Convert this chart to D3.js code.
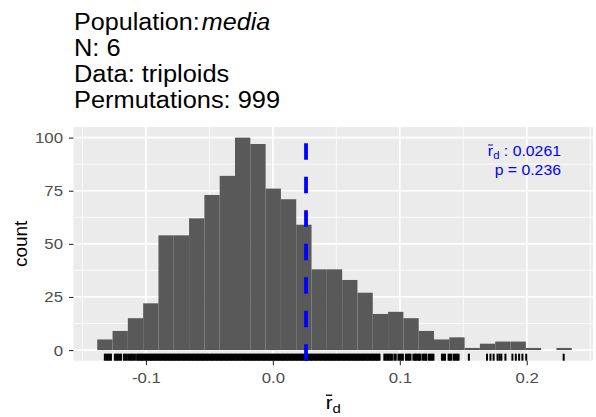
<!DOCTYPE html>
<html>
<head>
<meta charset="utf-8">
<script src="https://cdn.jsdelivr.net/npm/d3@7"></script>
<style>
  body { margin: 0; background: #ffffff; }
  svg { display: block; }
  text { font-family: "Liberation Sans", Arial, Helvetica, sans-serif; }
</style>
</head>
<body>
<svg id="chart" width="596" height="417"></svg>
<script>
// ---- data -------------------------------------------------------------
const titleLines = ["N: 6", "Data: triploids", "Permutations: 999"];
const populationName = "media";

// histogram of permuted mean correlations (31 equal-width bins)
const binStart = -0.1384;
const binWidth = 0.01206;
const binCounts = [5, 9, 15, 22, 54, 54, 62, 73, 82, 100, 97, 76, 71, 59, 38, 38,
                   33, 27, 17, 18, 15, 9, 5, 6, 1, 3, 4, 4, 1, 0, 1];

// rug: permuted values along the x axis
const rugLow = [-0.1324, -0.1312, -0.1300, -0.1288, -0.1276,
                -0.1245, -0.1233, -0.1221, -0.1209, -0.1197,
                -0.1174, -0.1162, -0.1150,
                -0.1134, -0.1122, -0.1111, -0.1099, -0.1087];
const rugDense = [
  -0.107, -0.106, -0.105, -0.104, -0.103, -0.102, -0.101, -0.100,
  -0.099, -0.098, -0.097, -0.096, -0.095, -0.094, -0.093, -0.092,
  -0.091, -0.090, -0.089, -0.088, -0.087, -0.086, -0.085, -0.084,
  -0.083, -0.082, -0.081, -0.080, -0.079, -0.078, -0.077, -0.076,
  -0.075, -0.074, -0.073, -0.072, -0.071, -0.070, -0.069, -0.068,
  -0.067, -0.066, -0.065, -0.064, -0.063, -0.062, -0.061, -0.060,
  -0.059, -0.058, -0.057, -0.056, -0.055, -0.054, -0.053, -0.052,
  -0.051, -0.050, -0.049, -0.048, -0.047, -0.046, -0.045, -0.044,
  -0.043, -0.042, -0.041, -0.040, -0.039, -0.038, -0.037, -0.036,
  -0.035, -0.034, -0.033, -0.032, -0.031, -0.030, -0.029, -0.028,
  -0.027, -0.026, -0.025, -0.024, -0.023, -0.022, -0.021, -0.020,
  -0.019, -0.018, -0.017, -0.016, -0.015, -0.014, -0.013, -0.012,
  -0.011, -0.010, -0.009, -0.008, -0.007, -0.006, -0.005, -0.004,
  -0.003, -0.002, -0.001, 0.000, 0.001, 0.002, 0.003, 0.004,
  0.005, 0.006, 0.007, 0.008, 0.009, 0.010, 0.011, 0.012,
  0.013, 0.014, 0.015, 0.016, 0.017, 0.018, 0.019, 0.020,
  0.021, 0.022, 0.023, 0.024, 0.025, 0.026, 0.027, 0.028,
  0.029, 0.030, 0.031, 0.032, 0.033, 0.034, 0.035, 0.036,
  0.037, 0.038, 0.039, 0.040, 0.041, 0.042, 0.043, 0.044,
  0.045, 0.046, 0.047, 0.048, 0.049, 0.050, 0.051, 0.052,
  0.053, 0.054, 0.055, 0.056, 0.057, 0.058, 0.059, 0.060,
  0.061, 0.062, 0.063, 0.064, 0.065, 0.066, 0.067, 0.068,
  0.069, 0.070, 0.071, 0.072, 0.073, 0.074, 0.075, 0.076,
  0.077, 0.078, 0.079, 0.080, 0.081, 0.082, 0.083, 0.084];
const rugHigh = [0.0878, 0.0890, 0.0902, 0.0914, 0.0926, 0.0938, 0.0957, 0.0968,
                 0.0989, 0.1001, 0.1013, 0.1024, 0.1048, 0.1060, 0.1072, 0.1084,
                 0.1107, 0.1119, 0.1127, 0.1139, 0.1151, 0.1159, 0.1178, 0.1190,
                 0.1202, 0.1210, 0.1230, 0.1242, 0.1253, 0.1265,
                 0.1332, 0.1344, 0.1356, 0.1384, 0.1395, 0.1407, 0.1427, 0.1439,
                 0.1451, 0.1463, 0.1544,
                 0.1687, 0.1714, 0.1739, 0.1770, 0.1786, 0.1800, 0.1832,
                 0.1887, 0.1914, 0.1940, 0.1966, 0.1996, 0.2291];

const observed = 0.0261;
const pValue = 0.236;

const xTicks = [-0.1, 0.0, 0.1, 0.2];
const xMinor = [-0.15, -0.05, 0.05, 0.15, 0.25];
const yTicks = [0, 25, 50, 75, 100];
const yMinor = [12.5, 37.5, 62.5, 87.5];

// ---- layout -----------------------------------------------------------
const panel = { left: 73.5, right: 593, top: 127, bottom: 360.7 };
const SX = 1.09;   // horizontal text widening

const svg = d3.select("#chart");

const x = d3.scaleLinear().domain([-0.1571, 0.2522]).range([panel.left, panel.right]);
const y = d3.scaleLinear().domain([-5, 105]).range([panel.bottom, panel.top]);

function widen(sel) {
  sel.each(function () {
    const L = this.getComputedTextLength();
    this.setAttribute("textLength", L * SX);
    this.setAttribute("lengthAdjust", "spacingAndGlyphs");
  });
}

// panel background
svg.append("rect")
  .attr("x", panel.left).attr("y", panel.top)
  .attr("width", panel.right - panel.left).attr("height", panel.bottom - panel.top)
  .attr("fill", "#EBEBEB");

const grid = svg.append("g");
grid.selectAll(".xminor").data(xMinor.filter(v => x(v) <= panel.right)).join("line")
  .attr("x1", d => x(d)).attr("x2", d => x(d))
  .attr("y1", panel.top).attr("y2", panel.bottom)
  .attr("stroke", "#fff").attr("stroke-width", 0.8);
grid.selectAll(".yminor").data(yMinor).join("line")
  .attr("x1", panel.left).attr("x2", panel.right)
  .attr("y1", d => y(d)).attr("y2", d => y(d))
  .attr("stroke", "#fff").attr("stroke-width", 0.8);
grid.selectAll(".xmajor").data(xTicks).join("line")
  .attr("x1", d => x(d)).attr("x2", d => x(d))
  .attr("y1", panel.top).attr("y2", panel.bottom)
  .attr("stroke", "#fff").attr("stroke-width", 1.7);
grid.selectAll(".ymajor").data(yTicks).join("line")
  .attr("x1", panel.left).attr("x2", panel.right)
  .attr("y1", d => y(d)).attr("y2", d => y(d))
  .attr("stroke", "#fff").attr("stroke-width", 1.7);

// histogram bars
const bins = binCounts.map((c, i) => ({ x0: binStart + i * binWidth, x1: binStart + (i + 1) * binWidth, count: c }));
svg.append("g").selectAll("rect").data(bins.filter(b => b.count > 0)).join("rect")
  .attr("x", d => x(d.x0))
  .attr("width", d => x(d.x1) - x(d.x0))
  .attr("y", d => y(d.count))
  .attr("height", d => y(0) - y(d.count))
  .attr("fill", "#595959");

// rug
const rugValues = rugLow.concat(rugDense, rugHigh);
const rugLen = 0.03 * (panel.bottom - panel.top);
svg.append("g").selectAll("line").data(rugValues).join("line")
  .attr("x1", d => x(d)).attr("x2", d => x(d))
  .attr("y1", panel.bottom).attr("y2", panel.bottom - rugLen)
  .attr("stroke", "#000").attr("stroke-width", 2);

// observed value
svg.append("line")
  .attr("x1", x(observed)).attr("x2", x(observed))
  .attr("y1", panel.bottom).attr("y2", panel.top)
  .attr("stroke", "#0000FF").attr("stroke-width", 3.8)
  .attr("stroke-dasharray", "16.5 17");

// axes
const yAxis = svg.append("g")
  .attr("transform", `translate(${panel.left},0)`)
  .call(d3.axisLeft(y).tickValues(yTicks).tickSize(4.5).tickPadding(6).tickFormat(d3.format("d")));
const xAxis = svg.append("g")
  .attr("transform", `translate(0,${panel.bottom})`)
  .call(d3.axisBottom(x).tickValues(xTicks).tickSize(4.5).tickPadding(6.5).tickFormat(d => d.toFixed(1)));
[yAxis, xAxis].forEach(g => {
  g.select(".domain").remove();
  g.selectAll(".tick line").attr("stroke", "#333333").attr("stroke-width", 1.1);
  g.selectAll(".tick text").attr("fill", "#4D4D4D").style("font-size", "15.4px")
    .style("font-family", '"Liberation Sans", Arial, sans-serif');
  widen(g.selectAll(".tick text"));
});

// axis titles
svg.append("text")
  .attr("transform", `translate(20,${(panel.top + panel.bottom) / 2}) rotate(-90)`)
  .attr("text-anchor", "middle")
  .attr("dy", "0.35em")
  .style("font-size", "19px")
  .text("count");

function rbarD(g, xPos, yBase, size, anchor, tail, color) {
  const t = g.append("text")
    .attr("x", xPos).attr("y", yBase)
    .attr("text-anchor", anchor)
    .attr("fill", color)
    .style("font-size", size + "px");
  t.append("tspan").text("r");
  t.append("tspan").attr("dy", size * 0.22).style("font-size", (size * 0.72) + "px").text("d");
  if (tail) t.append("tspan").attr("dy", -size * 0.22).text(tail);
  widen(t);
  const ext = t.node().getExtentOfChar(0);
  g.append("line")
    .attr("x1", ext.x + ext.width * 0.05).attr("x2", ext.x + ext.width * 0.95)
    .attr("y1", yBase - size * 0.74).attr("y2", yBase - size * 0.74)
    .attr("stroke", color).attr("stroke-width", size * 0.07);
  return t;
}
rbarD(svg, (panel.left + panel.right) / 2, 409.3, 19, "middle", null, "#000");

// annotation
const ann = svg.append("g");
rbarD(ann, 561, 155.7, 14.5, "end", " : " + observed.toFixed(4), "#0000FF");
const pt = ann.append("text")
  .attr("x", 561).attr("y", 175)
  .attr("text-anchor", "end").attr("fill", "#0000FF")
  .style("font-size", "14.5px")
  .text("p = " + pValue.toFixed(3));
widen(pt);

// title block
const title = svg.append("g").style("font-size", "23.3px").attr("fill", "#000");
const t0 = title.append("text").attr("x", 74).attr("y", 29.5);
t0.append("tspan").text("Population:");
t0.append("tspan").attr("dx", 2).style("font-style", "italic").text(populationName);
widen(t0);
titleLines.forEach((line, i) => {
  const t = title.append("text").attr("x", 74).attr("y", 55.5 + i * 26).text(line);
  widen(t);
});
</script>
</body>
</html>
